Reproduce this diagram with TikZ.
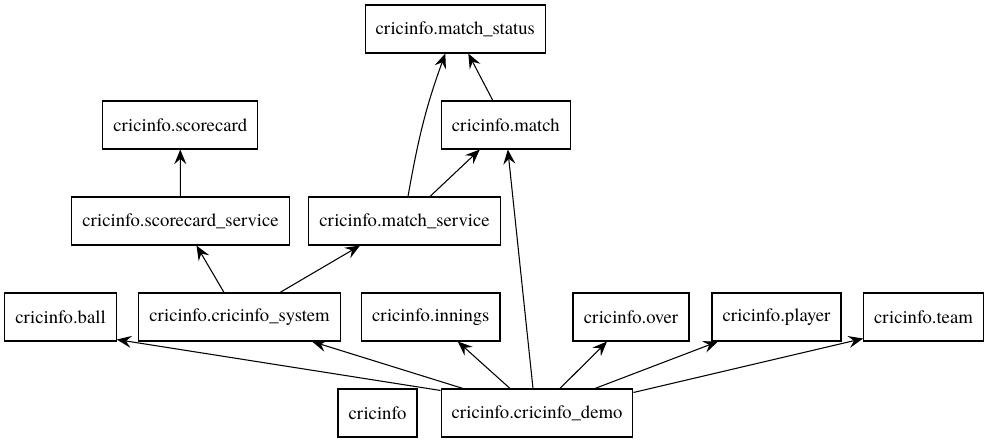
\documentclass[tikz,border=0pt]{standalone}
\usepackage{fontspec}
\newfontfamily\dotfont{texgyretermes-regular.otf}
\usetikzlibrary{arrows.meta, calc}

\begin{document}
\begin{tikzpicture}[x=0.75pt, y=-0.75pt,
    module/.style = {draw, line width=0.8pt, rectangle, minimum height=36pt,
        inner xsep=7.9pt, font=\dotfont\fontsize{14pt}{16pt}\selectfont},
    dep/.style = {-{Stealth[length=11pt, width=9pt, inset=4pt]}, line width=0.8pt}]
    \useasboundingbox (0,0) rectangle (989,443);
    \node (status) [module, minimum width=134.5pt] at (455.3,29) {cricinfo.match\_status};
    \node (match) [module, minimum width=96.2pt] at (505.8,125) {cricinfo.match};
    \node (score) [module, minimum width=113.8pt] at (180.2,125) {cricinfo.scorecard};
    \node (scoresvc) [module, minimum width=159.3pt] at (180.5,221) {cricinfo.scorecard\_service};
    \node (matchsvc) [module, minimum width=141.75pt] at (404.5,221) {cricinfo.match\_service};
    \node (ball) [module, minimum width=83.25pt] at (60.5,317) {cricinfo.ball};
    \node (system) [module, minimum width=149.25pt] at (239.5,317) {cricinfo.cricinfo\_system};
    \node (innings) [module, minimum width=102.2pt] at (430.8,317) {cricinfo.innings};
    \node (over) [module, minimum width=87pt] at (631,317) {cricinfo.over};
    \node (player) [module, minimum width=96.75pt] at (776.5,317) {cricinfo.player};
    \node (team) [module, minimum width=87.75pt] at (923.5,317) {cricinfo.team};
    \node (pkg) [module, minimum width=59.25pt] at (377.5,413) {cricinfo};
    \node (demo) [module, minimum width=142.5pt] at (537,413) {cricinfo.cricinfo\_demo};
    \path [dep]
        (scoresvc) edge (score)
        ($(matchsvc.north)+(3.5,0)$) edge[out=80, in=250] ($(status.south)+(-10,0)$)
        ($(matchsvc.north)+(25.5,0)$) edge ($(match.south)+(-26,0)$)
        ($(match.north)+(-13,0)$) edge ($(status.south)+(13,0)$)
        ($(system.north)+(-15.5,0)$) edge ($(scoresvc.south)+(16,0)$)
        ($(system.north)+(40.5,0)$) edge ($(matchsvc.south)+(-44.5,0)$)
        ($(demo.north west)+(0,2)$) edge ($(ball.south east)+(0,-2)$)
        ($(demo.north)+(-74,0)$) edge ($(system.south)+(72.5,0)$)
        ($(demo.north)+(-27,0)$) edge ($(innings.south)+(27,0)$)
        ($(demo.north)+(-4,0)$) edge ($(match.south)+(2,0)$)
        ($(demo.north)+(23,0)$) edge ($(over.south)+(-24,0)$)
        ($(demo.north)+(58,0)$) edge ($(player.south)+(-58.5,0)$)
        ($(demo.north east)+(0,4)$) edge ($(team.south west)+(0,-3)$);
\end{tikzpicture}
\end{document}
